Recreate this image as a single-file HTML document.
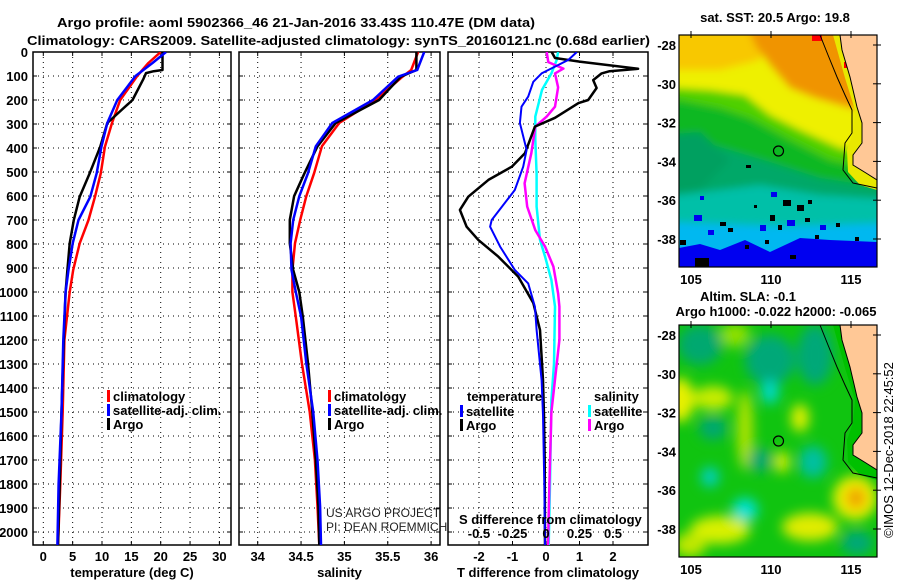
<!DOCTYPE html>
<html><head><meta charset="utf-8"><style>
html,body{margin:0;padding:0;background:#fff;}
svg{display:block;font-family:"Liberation Sans",Arial,sans-serif;}
.b{font-weight:bold;font-size:13px;fill:#000;}
</style></head><body>
<svg id="root" width="900" height="580" viewBox="0 0 900 580" xmlns="http://www.w3.org/2000/svg">
<defs>
<filter id="blur1" x="-20%" y="-20%" width="140%" height="140%"><feGaussianBlur stdDeviation="4"/></filter>
<filter id="blur2" x="-50%" y="-50%" width="200%" height="200%"><feGaussianBlur stdDeviation="6"/></filter>
<clipPath id="clipTop"><rect x="679" y="35" width="198" height="232"/></clipPath>
<clipPath id="clipBot"><rect x="679" y="325" width="198" height="232"/></clipPath>
<clipPath id="cp1"><rect x="33" y="52" width="198" height="493"/></clipPath>
<clipPath id="cp2"><rect x="239" y="52" width="201" height="493"/></clipPath>
<clipPath id="cp3"><rect x="448" y="52" width="200" height="493"/></clipPath>
</defs>
<text class="b" x="57" y="27" textLength="478" lengthAdjust="spacingAndGlyphs">Argo profile: aoml 5902366_46 21-Jan-2016 33.43S 110.47E (DM data)</text>
<text class="b" x="27" y="45" textLength="623" lengthAdjust="spacingAndGlyphs">Climatology: CARS2009. Satellite-adjusted climatology: synTS_20160121.nc (0.68d earlier)</text>

<g id="p1"></g>
<g id="p2"></g>
<g id="p3"></g>

<!-- SST map -->
<g>
<text class="b" x="775" y="22" text-anchor="middle">sat. SST: 20.5 Argo: 19.8</text>
<g clip-path="url(#clipTop)">
<rect x="679" y="35" width="198" height="232" fill="#00b8f0"/>
<g filter="url(#blur1)">
<polygon fill="#00c0a8" points="660,20 900,20 900,222 790,226 679,222 660,222"/>
<polygon fill="#00a868" points="660,20 900,20 900,200 820,195 760,185 679,195 660,195"/>
<polygon fill="#10b820" points="660,20 900,20 900,190 820,178 770,162 730,150 679,135 660,135"/>
<polygon fill="#00a060" points="660,135 700,132 730,160 700,190 660,195"/>
<polygon fill="#50d000" points="660,20 900,20 900,175 830,160 790,140 750,118 720,108 679,100 660,100"/>
<polygon fill="#eef000" points="660,20 900,20 900,158 840,148 800,130 770,115 745,95 710,90 679,88 660,88"/>
<polygon fill="#f8c800" points="660,20 770,20 760,60 720,70 660,70"/>
<polygon fill="#f09400" points="745,20 900,20 900,112 850,108 815,98 790,88 770,65 755,45"/>
</g>
<polygon fill="#0000f0" points="679,248 700,244 720,250 745,240 770,252 800,238 830,240 877,242 877,267 679,267"/>
<g fill="#000">
<rect x="680" y="240" width="6" height="5"/><rect x="695" y="258" width="14" height="9"/><rect x="728" y="228" width="5" height="4"/>
<rect x="745" y="245" width="4" height="4"/><rect x="770" y="215" width="5" height="6"/><rect x="783" y="200" width="8" height="6"/>
<rect x="797" y="205" width="7" height="6"/><rect x="808" y="200" width="4" height="4"/><rect x="790" y="255" width="6" height="4"/>
<rect x="765" y="240" width="4" height="4"/><rect x="720" y="222" width="6" height="4"/><rect x="815" y="235" width="4" height="4"/>
<rect x="746" y="165" width="5" height="3"/><rect x="836" y="223" width="4" height="4"/><rect x="855" y="237" width="4" height="4"/>
<rect x="754" y="205" width="3" height="3"/><rect x="778" y="225" width="4" height="5"/><rect x="805" y="218" width="5" height="4"/>
</g>
<g fill="#0000f0">
<rect x="694" y="215" width="8" height="6"/><rect x="708" y="230" width="6" height="5"/><rect x="760" y="225" width="6" height="6"/>
<rect x="787" y="220" width="8" height="6"/><rect x="820" y="225" width="6" height="5"/><rect x="840" y="250" width="6" height="5"/>
<rect x="771" y="192" width="6" height="5"/><rect x="700" y="196" width="4" height="4"/>
</g>
<polygon fill="#e8e800" points="833,35 846,35 855,77 862,107 866,123 866,143 858,156 858,165 871,173 877,176 877,190 860,185 848,172 847,150 853,133 855,110 845,78"/>
<rect x="812" y="35" width="10" height="6" fill="#f00"/><rect x="844" y="62" width="5" height="6" fill="#f00"/>
<polygon fill="#ffc896" points="840,35 877,35 877,180 866,173 853,165 853,155 862,143 862,123 857,107 850,77 842,50"/>
<polyline fill="none" stroke="#000" stroke-width="1" points="840,35 842,50 850,77 857,107 862,123 862,143 853,155 853,165 866,173 877,180"/>
<polyline fill="none" stroke="#000" stroke-width="1" points="820,35 828,55 837,77 845,95 852,110 852,133 845,143 843,170 853,183 877,188"/>
<circle cx="778.5" cy="151" r="5" fill="none" stroke="#000" stroke-width="1.2"/>
</g>
<rect x="679" y="35" width="198" height="232" fill="none" stroke="#000" stroke-width="1.2"/>
</g>

<!-- SLA map -->
<g>
<text class="b" x="748" y="301" text-anchor="middle">Altim. SLA: -0.1</text>
<text class="b" x="776" y="316" text-anchor="middle">Argo h1000: -0.022 h2000: -0.065</text>
<g clip-path="url(#clipBot)">
<rect x="679" y="325" width="198" height="232" fill="#10c410"/>
<g filter="url(#blur2)">
<ellipse cx="700" cy="345" rx="22" ry="20" fill="#00a870"/>
<ellipse cx="770" cy="360" rx="25" ry="25" fill="#00a878"/>
<ellipse cx="815" cy="355" rx="18" ry="30" fill="#00a878"/>
<ellipse cx="735" cy="335" rx="15" ry="12" fill="#90e000"/>
<ellipse cx="680" cy="400" rx="14" ry="22" fill="#e8f000"/>
<ellipse cx="713" cy="398" rx="20" ry="12" fill="#c8ec00"/>
<ellipse cx="770" cy="392" rx="9" ry="12" fill="#00d8c8"/>
<ellipse cx="713" cy="428" rx="14" ry="12" fill="#00a870"/>
<ellipse cx="745" cy="430" rx="8" ry="40" fill="#b0e400"/>
<ellipse cx="800" cy="418" rx="9" ry="14" fill="#e0f000"/>
<ellipse cx="782" cy="462" rx="7" ry="11" fill="#e0f000"/>
<ellipse cx="813" cy="462" rx="14" ry="16" fill="#00c0a0"/>
<ellipse cx="760" cy="460" rx="12" ry="12" fill="#00a870"/>
<ellipse cx="710" cy="477" rx="9" ry="10" fill="#00d0c0"/>
<ellipse cx="745" cy="510" rx="13" ry="12" fill="#00e0d0"/>
<ellipse cx="720" cy="530" rx="30" ry="14" fill="#d8f000"/>
<ellipse cx="810" cy="527" rx="28" ry="14" fill="#e0ec00"/>
<ellipse cx="690" cy="545" rx="16" ry="12" fill="#c0e800"/>
<ellipse cx="857" cy="543" rx="16" ry="12" fill="#00a878"/>
<ellipse cx="855" cy="498" rx="22" ry="22" fill="#eef000"/>
<ellipse cx="856" cy="498" rx="10" ry="11" fill="#f0a000"/>
</g>
<polygon fill="#00c000" points="833,325 846,325 855,367 862,397 866,413 866,433 858,446 858,455 871,463 877,466 877,480 860,475 848,462 847,440 853,423 855,400 845,368"/>
<polygon fill="#ffc896" points="840,325 877,325 877,470 866,463 853,455 853,445 862,433 862,413 857,397 850,367 842,340"/>
<polyline fill="none" stroke="#000" stroke-width="1" points="840,325 842,340 850,367 857,397 862,413 862,433 853,445 853,455 866,463 877,470"/>
<polyline fill="none" stroke="#000" stroke-width="1" points="820,325 828,345 837,367 845,385 852,400 852,423 845,433 843,460 853,473 877,478"/>
<circle cx="778.5" cy="441" r="5" fill="none" stroke="#000" stroke-width="1.2"/>
</g>
<rect x="679" y="325" width="198" height="232" fill="none" stroke="#000" stroke-width="1.2"/>
</g>
<g id="mapaxes"></g>
<text x="0" y="0" transform="translate(893,450) rotate(-90)" text-anchor="middle" font-size="13" fill="#000">©IMOS 12-Dec-2018 22:45:52</text>
</svg>
<script>
// ---- data ----
const depthTicks = [0,100,200,300,400,500,600,700,800,900,1000,1100,1200,1300,1400,1500,1600,1700,1800,1900,2000];
const tempTicks = [0,5,10,15,20,25,30];
const salTicks = [34,34.5,35,35.5,36];
const tdiffTicks = [-2,-1,0,1,2];
const sdiffTicks = [-0.5,-0.25,0,0.25,0.5];
const sdiffLabels = ["-0.5","-0.25","0","0.25","0.5"];

const climTDepth = [0,46,100,200,296,395,505,603,700,797,908,1000,1200,1500,1800,2055];
const climT = [20,17.9,16,13.1,11.7,10.5,9.8,8.8,7.7,6.2,5.1,4.5,3.6,3.3,2.9,2.5];
const satTDepth = [0,46,100,200,296,395,505,603,700,797,908,1000,1200,1500,1800,2055];
const satT = [20.9,18.6,15.7,12.6,10.9,9.9,9.1,8.0,6.0,5.0,4.3,3.8,3.4,3.1,2.6,2.4];
const argoTDepth = [0,75,80,88,115,200,296,395,505,603,700,797,908,1000,1200,1500,1800,2055];
const argoT = [20.3,20.3,18.8,17.5,17.0,15.2,10.9,9.7,7.9,6.2,5.2,4.5,4.1,3.8,3.5,3.1,2.8,2.5];

const salDepth = [0,75,103,200,296,393,505,601,700,797,908,1000,1103,1297,1499,1700,1894,2055];
const argoS = [35.83,35.83,35.65,35.40,34.90,34.69,34.54,34.42,34.37,34.37,34.41,34.48,34.52,34.58,34.63,34.67,34.70,34.71];
const satS = [35.92,35.84,35.62,35.33,34.86,34.67,34.58,34.48,34.41,34.38,34.39,34.44,34.50,34.56,34.64,34.69,34.72,34.73];
const climS = [35.85,35.77,35.67,35.36,34.94,34.74,34.65,34.56,34.49,34.43,34.40,34.40,34.44,34.51,34.60,34.66,34.69,34.71];

const argoTdDepth = [0,25,40,70,80,89,117,150,200,213,274,311,367,422,478,533,603,658,728,783,853,936,1046,1158,1367,1513,1700,2055];
const argoTd = [0.17,0.27,1.0,2.75,1.9,1.66,1.41,1.51,1.26,0.97,0.27,-0.33,-0.48,-0.63,-1.02,-1.72,-2.32,-2.57,-2.37,-2.02,-1.42,-0.83,-0.38,-0.18,-0.09,-0.06,-0.04,-0.03];
const satTdDepth = [0,33,89,124,186,228,296,408,478,575,700,728,811,908,964,1061,1158,1367,1513,1800,2055];
const satTd = [0.92,0.67,-0.13,-0.38,-0.53,-0.73,-0.78,-0.58,-0.68,-0.93,-1.62,-1.67,-1.37,-0.93,-0.53,-0.33,-0.28,-0.13,-0.09,-0.05,-0.03];
const satSdDepth = [0,33,89,158,269,367,506,644,783,853,950,1061,1300,1450,1800,2055];
const satSd = [0.09,0.08,0.04,-0.03,-0.08,-0.08,-0.07,-0.07,-0.045,-0.007,0.04,0.067,0.06,0.04,0.03,0.02];
const argoSdDepth = [0,42,69,89,147,228,269,311,422,547,644,742,811,894,1006,1061,1200,1500,1800,2055];
const argoSd = [0.005,0.017,0.13,0.067,0.09,0.067,0.005,-0.08,-0.11,-0.16,-0.14,-0.08,-0.007,0.055,0.09,0.10,0.1,0.04,0.025,0.015];

const mapLats = [-28,-30,-32,-34,-36,-38];
const mapLons = [105,110,115];

// ---- scales ----
const NS = "http://www.w3.org/2000/svg";
const yD = d => 52 + d * 0.24;
const xT = t => 43.3 + t * 5.87;
const xS = s => 257.7 + (s - 34) * 86.7;
const xTd = t => 546 + t * 33.5;
const xSd = s => 546 + s * 134;
const lonX = l => 691 + (l - 105) * 16;
const latY = (l, top) => top + (-28 - l) * 19.4;

function mk(tag, attrs, parent, text) {
  const e = document.createElementNS(NS, tag);
  for (const k in attrs) e.setAttribute(k, attrs[k]);
  if (text !== undefined) e.textContent = text;
  parent.appendChild(e);
  return e;
}

function panel(g, x0, x1, clip, xticks, xfn, labels, title, yLabels) {
  for (const d of depthTicks) {
    const l = mk('line', {x1:x0, x2:x1, y1:yD(d), y2:yD(d), stroke:'#000', 'stroke-width':1, 'stroke-dasharray':'1,4'}, g);
    
    
    mk('line', {x1:x0, x2:x0+4, y1:yD(d), y2:yD(d), stroke:'#000'}, g);
    mk('line', {x1:x1-4, x2:x1, y1:yD(d), y2:yD(d), stroke:'#000'}, g);
    if (yLabels) {
      const t = mk('text', {x:28, y:yD(d)+5, 'text-anchor':'end', class:'b'}, g, String(d));
      
      
    }
  }
  xticks.forEach((v, i) => {
    const x = xfn(v);
    const l = mk('line', {x1:x, x2:x, y1:52, y2:545, stroke:'#000', 'stroke-width':1, 'stroke-dasharray':'1,4'}, g);
    
    
    mk('line', {x1:x, x2:x, y1:52, y2:56, stroke:'#000'}, g);
    mk('line', {x1:x, x2:x, y1:541, y2:545, stroke:'#000'}, g);
    const t = mk('text', {x:x, y:561, 'text-anchor':'middle', class:'b'}, g, labels[i]);
    
    
  });
  const r = mk('rect', {x:x0, y:52, width:x1-x0, height:493, fill:'none', stroke:'#000', 'stroke-width':1.5}, g);
  
  
  const tt = mk('text', {x:(x0+x1)/2, y:577, 'text-anchor':'middle', class:'b'}, g, title);
  
  
}

function series(g, depths, vals, xfn, color, w, clip, name) {
  const pts = depths.map((d, i) => xfn(vals[i]).toFixed(1) + ',' + yD(d).toFixed(1)).join(' ');
  const p = mk('polyline', {points:pts, fill:'none', stroke:color, 'stroke-width':w, 'stroke-linejoin':'round', 'clip-path':'url(#' + clip + ')'}, g);
  
  
}

function legend(g, x, y, color, label) {
  const b = mk('rect', {x:x, y:y-10, width:3, height:12, fill:color}, g);
  
  
  const t = mk('text', {x:x+6, y:y+1, class:'b'}, g, label);
  
  
}

const p1 = document.getElementById('p1');
panel(p1, 33, 231, 'cp1', tempTicks, xT, tempTicks.map(String), 'temperature (deg C)', true);
series(p1, climTDepth, climT, xT, '#ff0000', 2.5, 'cp1', 'climatology-temperature-line');
series(p1, argoTDepth, argoT, xT, '#000000', 2.5, 'cp1', 'argo-temperature-line');
series(p1, satTDepth, satT, xT, '#0000ff', 2.5, 'cp1', 'satellite-temperature-line');
legend(p1, 107, 400, '#ff0000', 'climatology');
legend(p1, 107, 414, '#0000ff', 'satellite-adj. clim.');
legend(p1, 107, 428, '#000000', 'Argo');

const p2 = document.getElementById('p2');
panel(p2, 239, 440, 'cp2', salTicks, xS, salTicks.map(String), 'salinity', false);
series(p2, salDepth, climS, xS, '#ff0000', 2.5, 'cp2', 'climatology-salinity-line');
series(p2, salDepth, argoS, xS, '#000000', 2.5, 'cp2', 'argo-salinity-line');
series(p2, salDepth, satS, xS, '#0000ff', 2.5, 'cp2', 'satellite-salinity-line');
legend(p2, 328, 400, '#ff0000', 'climatology');
legend(p2, 328, 414, '#0000ff', 'satellite-adj. clim.');
legend(p2, 328, 428, '#000000', 'Argo');
const c1 = mk('text', {x:326, y:517, 'font-size':12, fill:'#222'}, p2, 'US ARGO PROJECT');


const c2 = mk('text', {x:326, y:531, 'font-size':12, fill:'#222'}, p2, 'PI: DEAN ROEMMICH');



const p3 = document.getElementById('p3');
panel(p3, 448, 648, 'cp3', tdiffTicks, xTd, tdiffTicks.map(String), 'T difference from climatology', false);
series(p3, satSdDepth, satSd, xSd, '#00ffff', 2.5, 'cp3', 'satellite-salinity-diff-line');
series(p3, argoSdDepth, argoSd, xSd, '#ff00ff', 2.5, 'cp3', 'argo-salinity-diff-line');
series(p3, argoTdDepth, argoTd, xTd, '#000000', 2.5, 'cp3', 'argo-temperature-diff-line');
series(p3, satTdDepth, satTd, xTd, '#0000ff', 2, 'cp3', 'satellite-temperature-diff-line');
sdiffTicks.forEach((v, i) => {
  const t = mk('text', {x:xSd(v), y:538, 'text-anchor':'middle', class:'b'}, p3, sdiffLabels[i]);
  
  
});
const st = mk('text', {x:459, y:524, class:'b'}, p3, 'S difference from climatology');


const th = mk('text', {x:467, y:401, class:'b'}, p3, 'temperature');


const sh = mk('text', {x:594, y:401, class:'b'}, p3, 'salinity');


legend(p3, 460, 415, '#0000ff', 'satellite');
legend(p3, 460, 429, '#000000', 'Argo');
legend(p3, 588, 415, '#00ffff', 'satellite');
legend(p3, 588, 429, '#ff00ff', 'Argo');

// map axes
const ma = document.getElementById('mapaxes');
[35, 325].forEach(top => {
  const lat0 = top === 35 ? 45 : 335;
  mapLats.forEach(l => {
    const y = latY(l, lat0);
    const t = mk('text', {x:676, y:y+5, 'text-anchor':'end', class:'b'}, ma, String(l));
    
    
    mk('line', {x1:873, x2:881, y1:y, y2:y, stroke:'#000'}, ma);
  });
  mapLons.forEach(l => {
    const x = lonX(l);
    mk('line', {x1:x, x2:x, y1:top-4, y2:top+3, stroke:'#000'}, ma);
    const t = mk('text', {x:x, y:top + 232 + 17, 'text-anchor':'middle', class:'b'}, ma, String(l));
    
    
  });
});
</script>
</body></html>
